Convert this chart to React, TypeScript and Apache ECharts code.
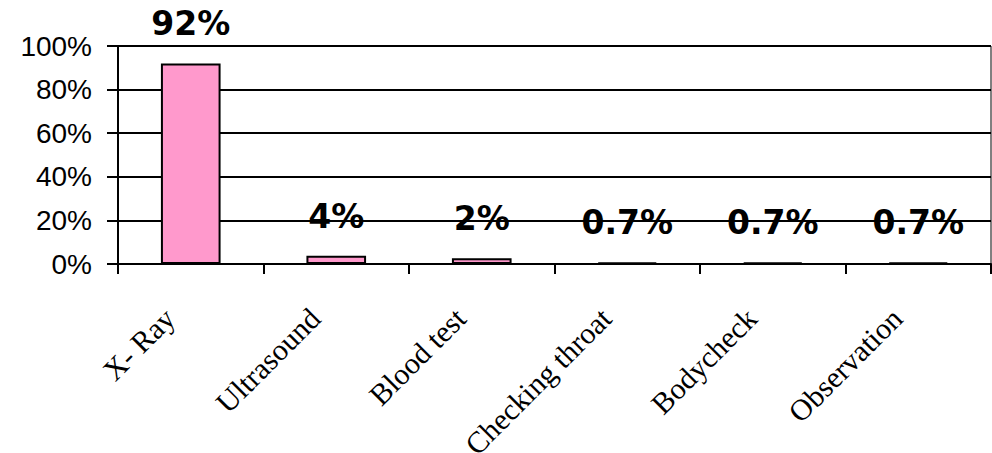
import React, { useEffect, useRef } from "react";
import * as echarts from "echarts";

const categories = ["X- Ray", "Ultrasound", "Blood test", "Checking throat", "Bodycheck", "Observation"];
const values = [92, 3.8, 2.6, 0.7, 0.7, 0.7];
const labelTexts = ["92%", "4%", "2%", "0.7%", "0.7%", "0.7%"];
const yTicks = [0, 20, 40, 60, 80, 100];

export default function App() {
  const ref = useRef<HTMLDivElement>(null);
  useEffect(() => {
    const chart = echarts.init(ref.current!, null, { renderer: "svg" });
    chart.setOption({
      animation: false,
      backgroundColor: "#ffffff",
      grid: {
        left: 118,
        right: 1,
        top: 46,
        bottom: 189,
        containLabel: false,
        outerBoundsMode: "none",
        show: true,
        borderColor: "#000000",
        borderWidth: 1,
      },
      xAxis: {
        type: "category",
        data: categories,
        axisLine: { lineStyle: { color: "#000000", width: 2 } },
        axisTick: { show: true, length: 10, lineStyle: { color: "#000000", width: 2 } },
        axisLabel: {
          rotate: 45,
          margin: 28,
          interval: 0,
          color: "#000000",
          fontFamily: "Liberation Serif",
          fontSize: 30,
          padding: [0, 30, 0, 0],
        },
      },
      yAxis: {
        type: "value",
        min: yTicks[0],
        max: yTicks[yTicks.length - 1],
        interval: 20,
        axisLine: { show: true, lineStyle: { color: "#000000", width: 2 } },
        axisTick: { show: true, length: 11, lineStyle: { color: "#000000", width: 2 } },
        splitLine: { show: true, lineStyle: { color: "#000000", width: 2 } },
        axisLabel: {
          margin: 26,
          color: "#000000",
          fontFamily: "Liberation Sans",
          fontSize: 28,
          formatter: (v: number) => v + "%",
        },
      },
      series: [
        {
          type: "bar",
          data: values,
          barWidth: "41%",
          itemStyle: { color: "#FF99CC", borderColor: "#000000", borderWidth: 2 },
          label: {
            show: true,
            position: "top",
            distance: 23,
            color: "#000000",
            fontFamily: "DejaVu Sans",
            fontWeight: "bold",
            fontSize: 33,
            formatter: (p: any) => labelTexts[p.dataIndex],
          },
        },
      ],
    });
    return () => chart.dispose();
  }, []);
  return (
    <div
      ref={ref}
      style={{ position: "fixed", left: 0, top: 0, width: 992, height: 453, background: "#fff" }}
    />
  );
}
